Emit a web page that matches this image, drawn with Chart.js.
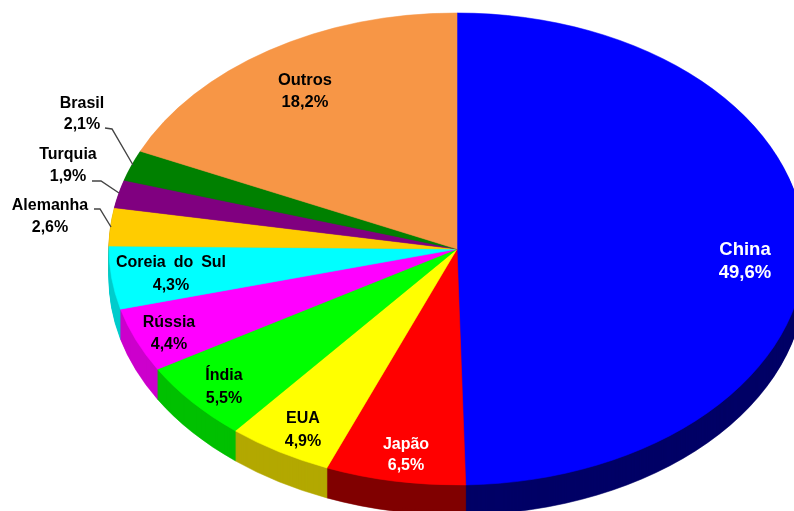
<!DOCTYPE html>
<html>
<head>
<meta charset="utf-8">
<style>
html, body { margin: 0; padding: 0; background: #fff; overflow: hidden; }
#wrap { width: 794px; height: 511px; }
</style>
<script src="https://cdn.jsdelivr.net/npm/chart.js@4"></script>
</head>
<body>
<div id="wrap"><canvas id="pieChart" width="794" height="511"></canvas></div>
<script>
const categories = ['China', 'Japão', 'EUA', 'Índia', 'Rússia', 'Coreia do Sul', 'Alemanha', 'Turquia', 'Brasil', 'Outros'];
const shares = [49.6, 6.5, 4.9, 5.5, 4.4, 4.3, 2.6, 1.9, 2.1, 18.2];
const topColors = ['#0000ff', '#ff0000', '#ffff00', '#00ff00', '#ff00ff', '#00ffff', '#ffcc00', '#800080', '#008000', '#f79646'];
const wallColors = ['#000066', '#800000', '#b3a800', '#00c000', '#cc00cc', '#00cccc', '#cc9900', '#660066', '#006600', '#c67838'];
const textColors = ['#fff', '#fff', '#000', '#000', '#000', '#000', '#000', '#000', '#000', '#000'];

// where each label sits, [x, first line y, second line y, font px]
const labelSpots = [
  [745, 250, 273, 18.5], [406, 445, 466, 16], [303, 419, 442, 16], [224, 376, 399, 16], [169, 323, 345, 16],
  [171, 263, 286, 16], [50, 206, 228, 16], [68, 155, 177, 16], [82, 104, 125, 16], [305, 80, 102, 16.5]
];
const leaders = [
  [[105, 128], [112, 129], [133, 165]],
  [[92, 181], [101, 181], [119, 193]],
  [[94, 209], [100, 209], [111, 227]]
];

// the ellipse the round pie gets squashed into
const centerX = 457, centerY = 249, radiusX = 348, radiusY = 236, depth = 30;

function squash(ctx, arc, dy) {
  ctx.translate(centerX, centerY + dy);
  ctx.scale(radiusX / arc.outerRadius, radiusY / arc.outerRadius);
  ctx.translate(-arc.x, -arc.y);
}

const tiltPlugin = {
  id: 'tilt',
  beforeDatasetsDraw(chart) {
    const ctx = chart.ctx;
    const arcs = chart.getDatasetMeta(0).data;
    // side wall: the same arcs stacked downwards in the dark colours
    for (let dy = depth; dy > 0; dy--) {
      ctx.save();
      squash(ctx, arcs[0], dy);
      arcs.forEach((arc, i) => {
        const opts = arc.options;
        arc.options = Object.assign({}, opts, {backgroundColor: wallColors[i], borderColor: wallColors[i]});
        arc.draw(ctx);
        arc.options = opts;
      });
      ctx.restore();
    }
    ctx.save();
    squash(ctx, arcs[0], 0);
  },
  afterDatasetsDraw(chart) {
    const ctx = chart.ctx;
    ctx.restore();

    ctx.strokeStyle = '#444';
    ctx.lineWidth = 1.4;
    leaders.forEach(line => {
      ctx.beginPath();
      line.forEach((p, i) => i ? ctx.lineTo(p[0], p[1]) : ctx.moveTo(p[0], p[1]));
      ctx.stroke();
    });

    ctx.textAlign = 'center';
    ctx.textBaseline = 'middle';
    ctx.wordSpacing = '3.5px';
    categories.forEach((name, i) => {
      const spot = labelSpots[i];
      ctx.font = 'bold ' + spot[3] + 'px "Liberation Sans", Arial, sans-serif';
      ctx.fillStyle = textColors[i];
      ctx.fillText(name, spot[0], spot[1]);
      ctx.fillText(shares[i].toFixed(1).replace('.', ',') + '%', spot[0], spot[2]);
    });
  }
};

new Chart(document.getElementById('pieChart').getContext('2d'), {
  type: 'pie',
  data: {
    labels: categories,
    datasets: [{
      data: shares,
      backgroundColor: topColors,
      borderColor: topColors,
      borderWidth: 0.5,
      clip: false
    }]
  },
  options: {
    responsive: false,
    animation: false,
    plugins: {legend: {display: false}, tooltip: {enabled: false}}
  },
  plugins: [tiltPlugin]
});
</script>
</body>
</html>
